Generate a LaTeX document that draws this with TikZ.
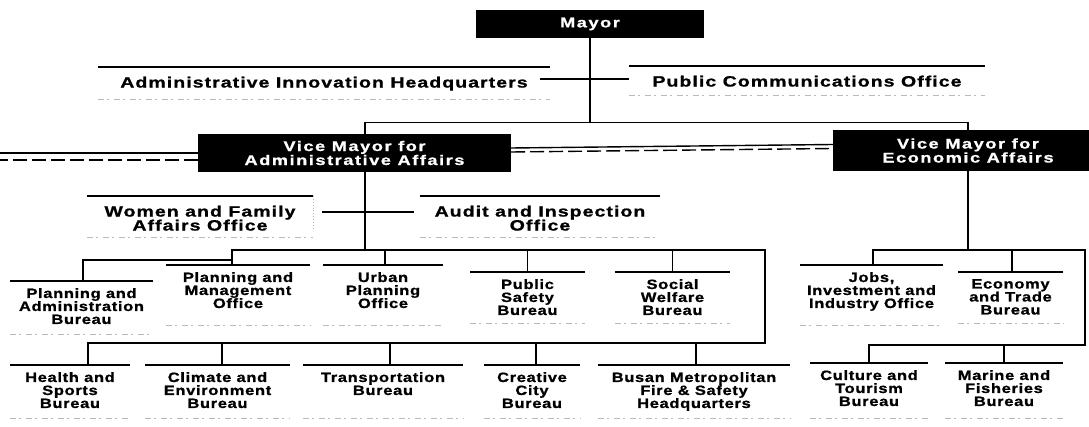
\documentclass[tikz,border=0pt]{standalone}
\usepackage{fontspec}
\newfontfamily\fA{Liberation Sans}[FakeStretch=1.3,LetterSpace=7,FakeBold=1]
\newfontfamily\fB{Liberation Sans}[FakeStretch=1.22,LetterSpace=5,FakeBold=1]
\newfontfamily\fC{Liberation Sans}[FakeStretch=1.3,LetterSpace=11,FakeBold=1]
\tikzset{
  conn/.style={line width=1.4pt},
  bar/.style={line width=2pt},
  noise/.style={gray!55, line width=0.9pt, dash pattern=on 6pt off 3pt on 2pt off 5pt},
  chief/.style={fill=black, text=white, font=\fC\bfseries\fontsize{14}{14}\selectfont, align=center, inner sep=0pt},
  unitA/.style={anchor=north, align=center, font=\fA\bfseries\fontsize{15}{14}\selectfont, inner xsep=0pt, inner ysep=9.5pt},
  unitB/.style={anchor=north, align=center, font=\fB\bfseries\fontsize{13.5}{13}\selectfont, inner xsep=0pt, inner ysep=7pt},
}
\begin{document}
\begin{tikzpicture}[x=1pt,y=-1pt]
\fill[white] (0,0) rectangle (1089,427);
\useasboundingbox (0,0) rectangle (1089,427);

% chiefs
\node[chief, minimum width=228pt, minimum height=28pt] (mayor) at (590,24) {Mayor};
\node[chief, minimum width=313pt, minimum height=38pt] (vma) at (354.5,153) {Vice Mayor for\\Administrative Affairs};
\node[chief, minimum width=270pt, minimum height=41pt] (vme) at (968,150.5) {Vice Mayor for\\Economic Affairs};

% level A units
\node[unitA, minimum width=452pt] (aih) at (324,67) {Administrative Innovation Headquarters};
\node[unitA, minimum width=355pt] (pco) at (807,66) {Public Communications Office};
\node[unitA, minimum width=226pt] (wfo) at (200,196) {Women and Family\\Affairs Office};
\node[unitA, minimum width=239pt] (aio) at (540,196) {Audit and Inspection\\Office};

% bureaus, first row
\node[unitB, minimum width=143pt] (pab) at (81.5,281) {Planning and\\Administration\\Bureau};
\node[unitB, minimum width=144pt] (pmo) at (238,265) {Planning and\\Management\\Office};
\node[unitB, minimum width=120pt] (upo) at (383,265) {Urban\\Planning\\Office};
\node[unitB, minimum width=115pt] (psb) at (527.5,272) {Public\\Safety\\Bureau};
\node[unitB, minimum width=115pt] (swb) at (672.5,272) {Social\\Welfare\\Bureau};
\node[unitB, minimum width=143pt] (jio) at (871.5,265) {Jobs,\\Investment and\\Industry Office};
\node[unitB, minimum width=105pt] (etb) at (1010.5,272) {Economy\\and Trade\\Bureau};

% bureaus, second row
\node[unitB, minimum width=120pt] (hsb) at (70,365) {Health and\\Sports\\Bureau};
\node[unitB, minimum width=145pt] (ceb) at (217.5,365) {Climate and\\Environment\\Bureau};
\node[unitB, minimum width=160pt] (trb) at (383,365) {Transportation\\Bureau};
\node[unitB, minimum width=96pt] (ccb) at (532,365) {Creative\\City\\Bureau};
\node[unitB, minimum width=192pt] (bfh) at (694,365) {Busan Metropolitan\\Fire \& Safety\\Headquarters};
\node[unitB, minimum width=118pt] (ctb) at (869,363) {Culture and\\Tourism\\Bureau};
\node[unitB, minimum width=118pt] (mfb) at (1004,363) {Marine and\\Fisheries\\Bureau};

% top bars
\foreach \n in {aih,pco,wfo,aio,pab,pmo,upo,psb,swb,jio,etb,hsb,ceb,trb,ccb,bfh,ctb,mfb}
  \draw[bar] (\n.north west) -- (\n.north east);

% faint lower rules
\coordinate (nzA) at (0,99);
\coordinate (nzB) at (0,95);
\coordinate (nzC) at (0,237);
\coordinate (nzD) at (0,334);
\coordinate (nzE) at (0,325);
\coordinate (nzF) at (0,323);
\coordinate (nzG) at (0,418);
\draw[noise] (aih.north west |- nzA) -- (aih.north east |- nzA);
\draw[noise] (pco.north west |- nzB) -- (pco.north east |- nzB);
\foreach \n in {wfo,aio} \draw[noise] (\n.north west |- nzC) -- (\n.north east |- nzC);
\draw[noise] (pab.north west |- nzD) -- (pab.north east |- nzD);
\foreach \n in {pmo,upo,jio} \draw[noise] (\n.north west |- nzE) -- (\n.north east |- nzE);
\foreach \n in {psb,swb,etb} \draw[noise] (\n.north west |- nzF) -- (\n.north east |- nzF);
\foreach \n in {hsb,ceb,trb,ccb,bfh,ctb,mfb} \draw[noise] (\n.north west |- nzG) -- (\n.north east |- nzG);
\draw[gray!60, line width=0.9pt, dotted] (wfo.north east) -- ++(0,34);

% Mayor level
\draw[conn] (mayor.south) -- ++(0,85);
\path (aih.north east) ++(-10,12) coordinate (aihc);
\draw[conn] (aihc) -- (aihc -| pco.west);
\draw[conn] ([xshift=10.5pt]vma.north) -- ++(0,-11) -| (vme.north);

% vice mayor side rules
\coordinate (edgeL) at (0,153);
\draw[conn] (vma.west) -- (edgeL);
\draw[conn, dash pattern=on 14pt off 5pt] ([yshift=-7pt]vma.west) -- ([yshift=-7pt]edgeL);
\draw[conn] ([yshift=5pt]vma.east) -- ([yshift=6pt]vme.west);
\draw[conn, dash pattern=on 14pt off 5pt] ([yshift=1pt]vma.east) -- ([yshift=2pt]vme.west);

% administrative branch
\coordinate (busA) at (765,250);
\coordinate (busB) at (765,343);
\draw[conn] ([xshift=10.5pt]vma.south) -- ([xshift=10.5pt]vma.south |- busA);
\draw[conn] ([shift={(9,16)}]wfo.north east) -- ([shift={(-6,16)}]aio.north west);
\draw[conn] ([xshift=-6pt]pmo.north) |- (busA) -- (busB) -| ([xshift=18pt]hsb.north);
\draw[conn] ([shift={(-6,-5)}]pmo.north) -| ([xshift=1.5pt]pab.north);
\draw[conn] ([xshift=2pt]upo.north |- busA) -- ([xshift=2pt]upo.north);
\draw[conn] (psb.north |- busA) -- (psb.north);
\draw[conn] (swb.north |- busA) -- (swb.north);
\draw[conn] ([xshift=4.5pt]ceb.north |- busB) -- ([xshift=4.5pt]ceb.north);
\draw[conn] ([xshift=7pt]trb.north |- busB) -- ([xshift=7pt]trb.north);
\draw[conn] ([xshift=4pt]ccb.north |- busB) -- ([xshift=4pt]ccb.north);
\draw[conn] ([xshift=2pt]bfh.north |- busB) -- ([xshift=2pt]bfh.north);

% economic branch
\coordinate (busC) at (1085,250);
\coordinate (busD) at (1085,345);
\draw[conn] (vme.south) -- (vme.south |- busC);
\draw[conn] ([xshift=1.5pt]jio.north) |- (busC) -- (busD) -| (ctb.north);
\draw[conn] ([xshift=1.5pt]etb.north |- busC) -- ([xshift=1.5pt]etb.north);
\draw[conn] (mfb.north |- busD) -- (mfb.north);
\end{tikzpicture}
\end{document}
